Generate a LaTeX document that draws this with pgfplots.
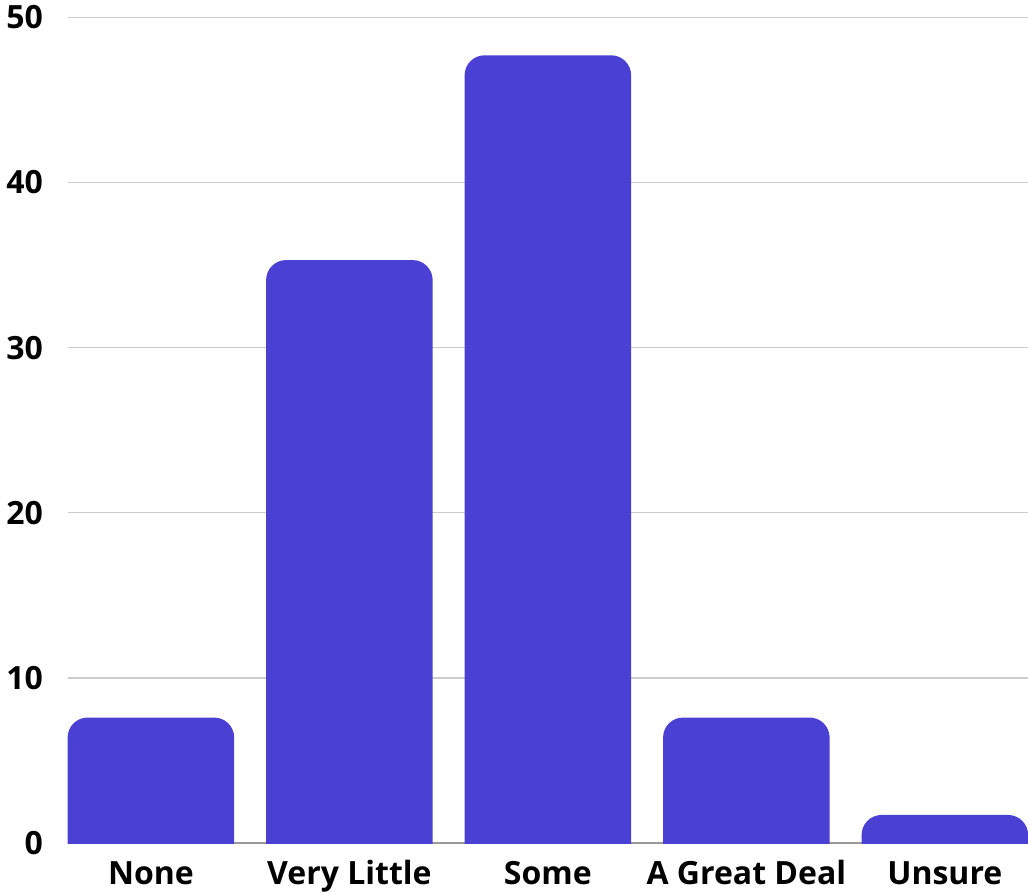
\documentclass[border=0pt]{standalone}
\usepackage{fontspec}
\setmainfont{Open Sans}
\usepackage{pgfplots}
\pgfplotsset{compat=1.18}
\usetikzlibrary{calc}
\definecolor{barblue}{HTML}{4B40D4}
\definecolor{gridgray}{HTML}{CCCCCC}
\definecolor{basegray}{HTML}{999999}

\begin{document}
\begin{tikzpicture}
\begin{axis}[
  scale only axis,
  width=720.2pt, height=619.3pt,
  xmin=-0.419, xmax=4.419,
  ymin=0, ymax=50,
  ytick={0,10,...,50},
  xtick={0,1,2,3,4},
  xticklabels={None,Very Little,Some,A Great Deal,Unsure},
  major tick length=0pt,
  ymajorgrids,
  major grid style={draw=gridgray, line width=0.9pt},
  axis x line*=bottom,
  axis y line*=left,
  x axis line style={draw=basegray, line width=1.1pt, -},
  y axis line style={draw=none},
  tick label style={font=\bfseries\fontsize{24}{24}\selectfont, text=black},
  /pgf/number format/assume math mode=true,
  yticklabel style={anchor=east, inner sep=0pt, xshift=-18.5pt},
  xticklabel style={anchor=base, inner sep=0pt, yshift=-30.9pt},
  % each bar starts below the baseline, so only its top corners show rounded
  bar/.style={fill=barblue, draw=none, rounded corners=15pt},
]
\addplot[bar] coordinates {(-0.4195,-3) (-0.4195,7.6)  (0.4195,7.6)  (0.4195,-3)} -- cycle;  % None
\addplot[bar] coordinates {(0.5805,-3)  (0.5805,35.3)  (1.4195,35.3) (1.4195,-3)} -- cycle;  % Very Little
\addplot[bar] coordinates {(1.5805,-3)  (1.5805,47.7)  (2.4195,47.7) (2.4195,-3)} -- cycle;  % Some
\addplot[bar] coordinates {(2.5805,-3)  (2.5805,7.6)   (3.4195,7.6)  (3.4195,-3)} -- cycle;  % A Great Deal
\addplot[bar] coordinates {(3.5805,-3)  (3.5805,1.7)   (4.4195,1.7)  (4.4195,-3)} -- cycle;  % Unsure
\coordinate (sw) at (rel axis cs:0,0);
\coordinate (ne) at (rel axis cs:1,1);
\end{axis}
\pgfresetboundingbox
\path ($(sw)+(-50.8pt,-36.75pt)$) rectangle ($(ne)+(0,13pt)$);
\end{tikzpicture}
\end{document}
